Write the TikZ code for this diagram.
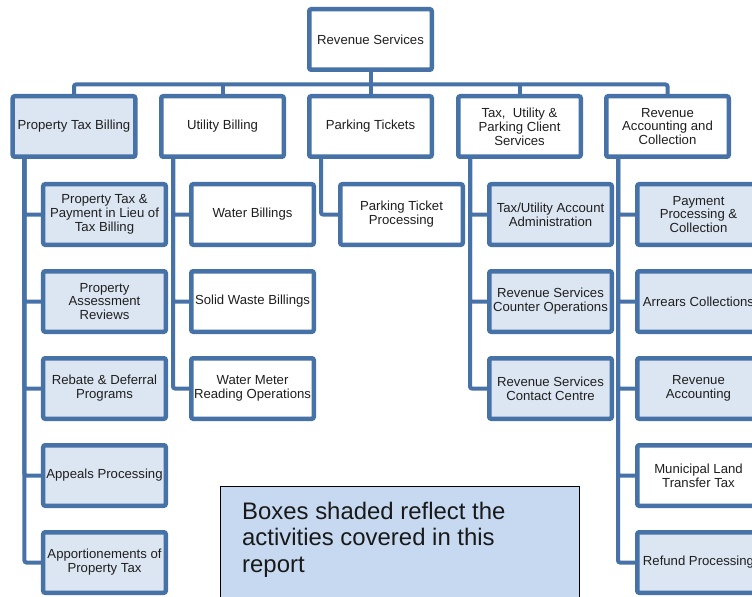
\documentclass[tikz,border=0pt]{standalone}
\usepackage{fontspec}
\setmainfont{Liberation Sans}
\usetikzlibrary{calc}
\definecolor{orgline}{HTML}{4672A8}
\definecolor{unitfill}{HTML}{DCE6F2}
\definecolor{notefill}{HTML}{C6D9F1}
\tikzset{
  unit/.style={draw=orgline, line width=4.5bp, rounded corners=2bp, fill=white,
    minimum width=122.5bp, minimum height=60.5bp, inner sep=0pt, align=center,
    font=\fontsize{13.2}{14}\selectfont, text=black!88},
  covered/.style={unit, fill=unitfill},
  link/.style={draw=orgline, line width=4bp, rounded corners=2bp},
  notebox/.style={draw=black, line width=1.2bp, fill=notefill, inner sep=0pt,
    minimum width=358.8bp, minimum height=140bp, anchor=north west},
  notetext/.style={anchor=north west, inner sep=0pt, align=left,
    font=\fontsize{24}{27}\selectfont, text=black!90},
}
\begin{document}
\begin{tikzpicture}[x=1bp,y=-1bp]
\useasboundingbox (0,0) rectangle (752,597);
\clip (0,0) rectangle (752,597);

% top of the division
\node[unit] (top) at (370.5,39.5) {Revenue Services};

% sections
\node[covered] (ptb)  at (74,126.5)    {Property Tax Billing};
\node[unit]    (ub)   at (222.5,126.5) {Utility Billing};
\node[unit]    (pt)   at (370.5,126.5) {Parking Tickets};
\node[unit]    (tucs) at (519.5,126.5) {Tax,\ \ Utility \&\\Parking Client\\Services};
\node[unit]    (rac)  at (667.5,126.5) {Revenue\\Accounting and\\Collection};

% Property Tax Billing units
\node[covered] (ptb1) at (104.5,214.5) {Property Tax \&\\Payment in Lieu of\\Tax Billing};
\node[covered] (ptb2) at (104.5,301.5) {Property\\Assessment\\Reviews};
\node[covered] (ptb3) at (104.5,388.5) {Rebate \& Deferral\\Programs};
\node[covered] (ptb4) at (104.5,475.5) {Appeals Processing};
\node[covered] (ptb5) at (104.5,562.5) {Apportionements of\\Property Tax};

% Utility Billing units
\node[unit] (ub1) at (252.5,214.5) {Water Billings};
\node[unit] (ub2) at (252.5,301.5) {Solid Waste Billings};
\node[unit] (ub3) at (252.5,388.5) {Water Meter\\Reading Operations};

% Parking Tickets unit
\node[unit] (pt1) at (401.5,214.5) {Parking Ticket\\Processing};

% Client services units
\node[covered] (tucs1) at (550.5,214.5) {Tax/Utility Account\\Administration};
\node[covered] (tucs2) at (550.5,301.5) {Revenue Services\\Counter Operations};
\node[covered] (tucs3) at (550.5,388.5) {Revenue Services\\Contact Centre};

% Accounting and collection units
\node[covered] (rac1) at (698.5,214.5) {Payment\\Processing \&\\Collection};
\node[covered] (rac2) at (698.5,301.5) {Arrears Collections};
\node[covered] (rac3) at (698.5,388.5) {Revenue\\Accounting};
\node[unit]    (rac4) at (698.5,475.5) {Municipal Land\\Transfer Tax};
\node[covered] (rac5) at (698.5,562.5) {Refund Processing};

% bus joining the sections to the top box
\coordinate (bus) at (370.5,84.5);
\draw[link] (top.south) -- (bus);
\draw[link] (ptb.north) |- (bus) -| (rac.north);
\foreach \n in {ub,pt,tucs}
  \draw[link] (\n.north) -- (\n.north |- bus);

% spines from each section down to its units
\foreach \p/\last in {ptb/5,ub/3,pt/1,tucs/3,rac/5} {
  \coordinate (\p-spine) at ($(\p.south west)+(14,0)$);
  \foreach \k in {1,...,\last}
    \draw[link] (\p-spine) |- (\p\k.west);
}

% legend
\node[notebox] (note) at (220,486) {};
\node[notetext] (notetxt) at (242,501.5)
  {Boxes shaded reflect the\\activities covered in this\\report};
\end{tikzpicture}
\end{document}
